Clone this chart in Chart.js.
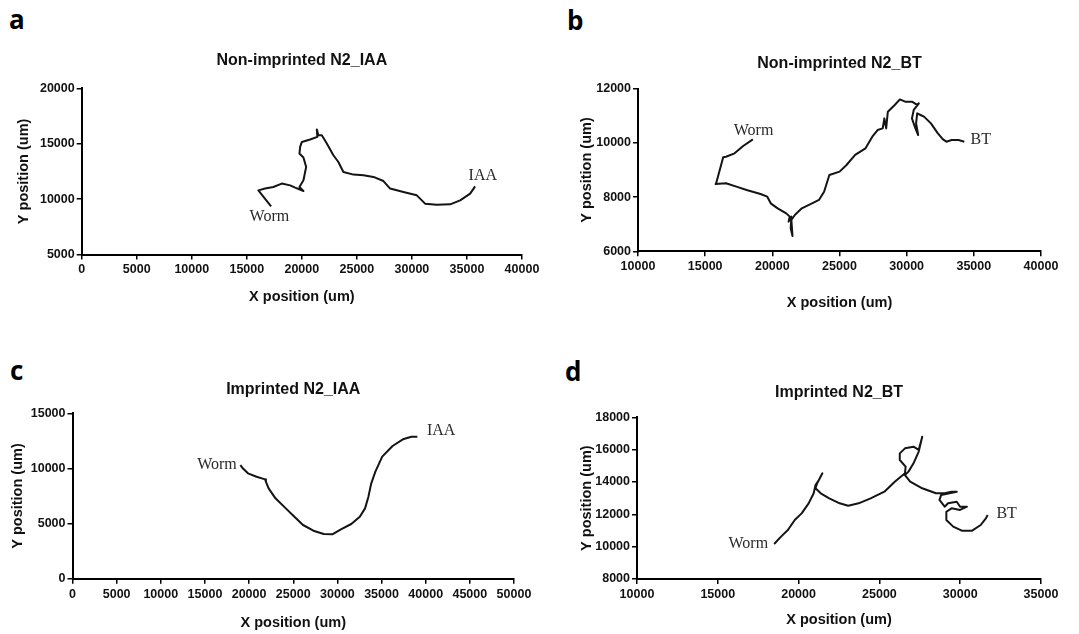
<!DOCTYPE html>
<html lang="en">
<head>
<meta charset="UTF-8">
<title>Worm tracks</title>
<script src="https://cdn.jsdelivr.net/npm/chart.js"></script>
<style>
  body { margin: 0; background: #fff; width: 1079px; height: 634px; position: relative; overflow: hidden; }
  .letter { position: absolute; font-family: 'Open Sans', sans-serif; font-weight: 700; font-size: 26px; line-height: 26px; color: #000; }
  canvas { position: absolute; }
</style>
</head>
<body>
<div class="letter" style="left:9px;top:6px">a</div>
<div class="letter" style="left:567px;top:7px">b</div>
<div class="letter" style="left:10px;top:357px">c</div>
<div class="letter" style="left:565px;top:358px">d</div>

<canvas id="chartA" width="565" height="275" style="left:0;top:40px"></canvas>
<canvas id="chartB" width="534" height="275" style="left:545px;top:40px"></canvas>
<canvas id="chartC" width="560" height="284" style="left:0;top:350px"></canvas>
<canvas id="chartD" width="534" height="284" style="left:545px;top:350px"></canvas>

<script>
// a: non-imprinted, IAA
const aX = [17206, 16051, 16659, 17412, 18175, 18938, 19391, 20144, 19783, 20144, 20391, 20144, 19783, 19845, 20000, 20752, 21412, 21360, 21504, 21814, 22267, 22865, 23319, 23773, 24690, 25597, 26504, 27412, 28020, 29226, 30442, 31195, 32257, 33473, 34380, 35288, 35741];
const aY = [9344, 10790, 10950, 11090, 11400, 11240, 11040, 10730, 11090, 11700, 12900, 13750, 14110, 14710, 15160, 15380, 15620, 16290, 15770, 15770, 15020, 13960, 13350, 12450, 12210, 12150, 12000, 11630, 10950, 10640, 10340, 9590, 9500, 9530, 9890, 10490, 11150];
const aNotes = [['Worm', 17051, 8440], ['IAA', 36442, 12060]];

// b: non-imprinted, BT
const bX = [18551, 17829, 17189, 16550, 16343, 15828, 15776, 16550, 17323, 18087, 19118, 19624, 19881, 20397, 21037, 21295, 21212, 21418, 21367, 21501, 21418, 21676, 22192, 22955, 23471, 23853, 24245, 25008, 25524, 26163, 26937, 27442, 27834, 28216, 28340, 28474, 28598, 29113, 29495, 29887, 30393, 30784, 30908, 30527, 30393, 30650, 30857, 30702, 30784, 31032, 31290, 31806, 32322, 32703, 32961, 33343, 33858, 34292];
const bY = [10130, 9885, 9615, 9490, 9470, 8530, 8480, 8510, 8385, 8260, 8115, 8015, 7770, 7585, 7400, 7280, 7095, 7280, 6850, 6565, 7155, 7340, 7585, 7770, 7895, 8200, 8815, 8940, 9185, 9555, 9800, 10230, 10475, 10535, 10905, 10535, 11150, 11400, 11605, 11520, 11520, 11400, 11460, 11215, 10905, 10535, 10290, 10720, 11090, 11030, 10970, 10720, 10350, 10130, 10045, 10105, 10105, 10045];
const bNotes = [['Worm', 18603, 10450], ['BT', 35519, 10110]];

// c: imprinted, IAA
const cX = [19013, 19282, 19872, 20845, 21818, 21900, 22211, 22987, 24157, 25130, 26103, 27283, 28453, 29426, 30399, 31568, 32541, 33131, 33514, 33835, 34301, 35077, 36247, 37417, 38390, 39052];
const cY = [10310, 10010, 9555, 9250, 9010, 8800, 8195, 7290, 6380, 5625, 4870, 4355, 4050, 4020, 4475, 4960, 5625, 6380, 7440, 8650, 9705, 11070, 12035, 12640, 12880, 12880];
const cNotes = [['Worm', 16363, 10310], ['IAA', 41754, 13430]];

// d: imprinted, BT
const dX = [18487, 18912, 19337, 19762, 20187, 20622, 20933, 21047, 21255, 21472, 21151, 21047, 21368, 21897, 22540, 23069, 23711, 24457, 25308, 25950, 26583, 26624, 26261, 26261, 26583, 27111, 27433, 27650, 27433, 27111, 26800, 26583, 26904, 27650, 28500, 29039, 29464, 29786, 28822, 28718, 29039, 29247, 29786, 29993, 30418, 29993, 29464, 29143, 29143, 29568, 30097, 30739, 31268, 31589, 31703];
const dY = [10165, 10620, 11030, 11650, 12060, 12680, 13300, 13815, 14125, 14535, 13920, 13610, 13300, 12990, 12680, 12535, 12680, 12990, 13400, 14020, 14535, 14950, 15360, 15770, 16080, 16185, 15980, 16800, 15880, 15155, 14640, 14430, 14020, 13610, 13300, 13300, 13400, 13400, 13200, 12890, 12470, 12680, 12780, 12470, 12470, 12270, 12370, 12160, 11650, 11240, 10990, 10990, 11340, 11750, 11960];
const dNotes = [['Worm', 16890, 10205], ['BT', 32875, 12060]];

const titles = ['Non-imprinted N2_IAA', 'Non-imprinted N2_BT', 'Imprinted N2_IAA', 'Imprinted N2_BT'];
const xLabel = 'X position (um)';
const yLabel = 'Y position (um)';

// layout, in page pixels
const TITLE_FONT = 16, AXIS_FONT = 14.5, TICK_FONT = 12.5;
const TITLE_LH = TITLE_FONT * 1.2, AXIS_LH = AXIS_FONT * 1.2;

const notesPlugin = {
  id: 'notes',
  afterDatasetsDraw(chart, args, opts) {
    const { ctx, scales: { x, y } } = chart;
    ctx.save();
    ctx.font = '16px "Liberation Serif", "Times New Roman", serif';
    ctx.fillStyle = '#2a2a2a';
    ctx.textAlign = 'center';
    ctx.textBaseline = 'middle';
    (opts.items || []).forEach(n => ctx.fillText(n[0], x.getPixelForValue(n[1]), y.getPixelForValue(n[2])));
    ctx.restore();
  }
};

function makeChart(id, box, area, pos, title, xs, ys, xr, yr, notes) {
  const padLeft = pos.yTitleX - box.left - AXIS_LH / 2;
  const yAxisW = area.l - box.left - padLeft;
  const padRight = box.left + box.w - area.r;
  const padBottom = box.top + box.h - (pos.xTitleY + AXIS_LH / 2);
  const xAxisH = box.top + box.h - padBottom - area.b;
  const tPadTop = pos.titleY - box.top - TITLE_LH / 2;
  const tPadBottom = area.t - pos.titleY - TITLE_LH / 2;

  const axisCommon = {
    type: 'linear',
    border: { display: true, color: '#000', width: 2 },
    grid: { drawOnChartArea: false, drawTicks: true, tickLength: 5, color: '#000', lineWidth: 1.5 },
  };

  return new Chart(document.getElementById(id), {
    type: 'scatter',
    data: {
      datasets: [{
        data: xs.map((v, i) => ({ x: v, y: ys[i] })),
        showLine: true,
        borderColor: '#141414',
        borderWidth: 2,
        borderJoinStyle: 'round',
        pointRadius: 0,
        tension: 0
      }]
    },
    options: {
      responsive: false,
      animation: false,
      layout: { padding: { left: padLeft, right: padRight, top: 0, bottom: padBottom } },
      plugins: {
        legend: { display: false },
        tooltip: { enabled: false },
        title: {
          display: true, text: title, fullSize: false, color: '#111',
          font: { family: '"Liberation Sans", Arial, sans-serif', size: TITLE_FONT, weight: 'bold' },
          padding: { top: tPadTop, bottom: tPadBottom }
        },
        notes: { items: notes }
      },
      scales: {
        x: {
          ...axisCommon,
          min: xr[0], max: xr[1],
          afterFit: s => { s.height = xAxisH; },
          ticks: {
            stepSize: xr[2], autoSkip: false, maxRotation: 0, padding: 3, color: '#111',
            font: { family: '"Liberation Sans", Arial, sans-serif', size: TICK_FONT, weight: 'bold' },
            callback: v => String(v)
          },
          title: {
            display: true, text: xLabel, color: '#111', padding: 0,
            font: { family: '"Liberation Sans", Arial, sans-serif', size: AXIS_FONT, weight: 'bold' }
          }
        },
        y: {
          ...axisCommon,
          min: yr[0], max: yr[1],
          afterFit: s => { s.width = yAxisW; },
          ticks: {
            stepSize: yr[2], autoSkip: false, padding: 2, color: '#111',
            font: { family: '"Liberation Sans", Arial, sans-serif', size: TICK_FONT, weight: 'bold' },
            callback: v => String(v)
          },
          title: {
            display: true, text: yLabel, color: '#111', padding: 0,
            font: { family: '"Liberation Sans", Arial, sans-serif', size: AXIS_FONT, weight: 'bold' }
          }
        }
      }
    },
    plugins: [notesPlugin]
  });
}

makeChart('chartA', { left: 0, top: 40, w: 565, h: 275 }, { l: 81.7, r: 522, t: 88.3, b: 254.5 },
  { titleY: 61, xTitleY: 296.7, yTitleX: 24 }, titles[0], aX, aY, [0, 40000, 5000], [5000, 20000, 5000], aNotes);
makeChart('chartB', { left: 545, top: 40, w: 534, h: 275 }, { l: 638, r: 1041, t: 88.7, b: 251.3 },
  { titleY: 63.5, xTitleY: 303, yTitleX: 586.5 }, titles[1], bX, bY, [10000, 40000, 5000], [6000, 12000, 2000], bNotes);
makeChart('chartC', { left: 0, top: 350, w: 560, h: 284 }, { l: 72.5, r: 514, t: 413.3, b: 578.7 },
  { titleY: 389.3, xTitleY: 623.3, yTitleX: 18.3 }, titles[2], cX, cY, [0, 50000, 5000], [0, 15000, 5000], cNotes);
makeChart('chartD', { left: 545, top: 350, w: 534, h: 284 }, { l: 637, r: 1041, t: 417.3, b: 579 },
  { titleY: 392.5, xTitleY: 620, yTitleX: 586.5 }, titles[3], dX, dY, [10000, 35000, 5000], [8000, 18000, 2000], dNotes);
</script>
</body>
</html>
